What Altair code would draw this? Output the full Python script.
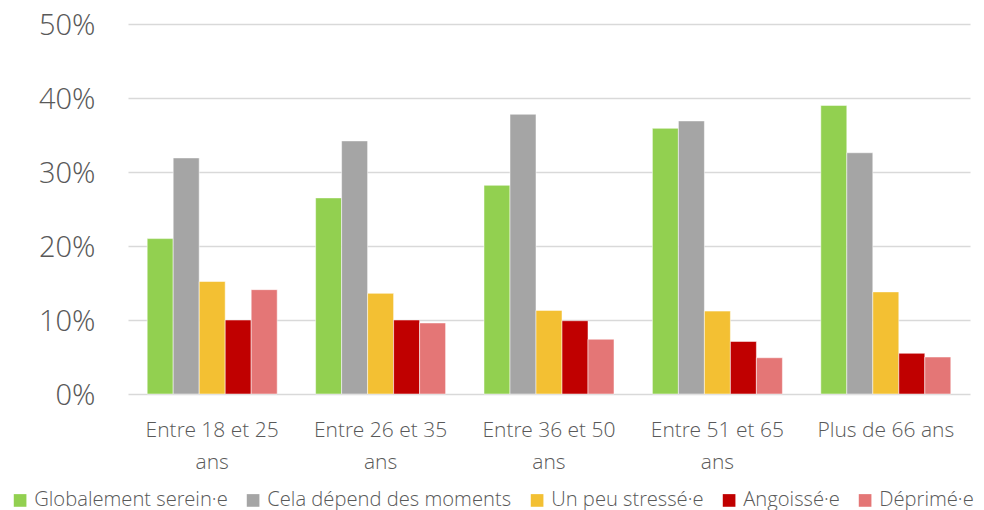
import altair as alt
import pandas as pd

groups = ["Entre 18 et 25 ans", "Entre 26 et 35 ans", "Entre 36 et 50 ans",
          "Entre 51 et 65 ans", "Plus de 66 ans"]
series = ["Globalement serein·e", "Cela dépend des moments", "Un peu stressé·e",
          "Angoissé·e", "Déprimé·e"]
colors = ["#92D050", "#A5A5A5", "#F3C033", "#C00000", "#E47676"]

serein = [0.210, 0.265, 0.282, 0.359, 0.390]
depend = [0.319, 0.342, 0.378, 0.369, 0.326]
stresse = [0.152, 0.136, 0.113, 0.112, 0.138]
angoisse = [0.100, 0.100, 0.099, 0.071, 0.055]
deprime = [0.141, 0.096, 0.074, 0.049, 0.050]

values = [serein, depend, stresse, angoisse, deprime]
rows = []
for s, vals in zip(series, values):
    for g, v in zip(groups, vals):
        rows.append({"groupe": g, "serie": s, "valeur": v})
df = pd.DataFrame(rows)

FONT = "'Open Sans Light', 'Open Sans', sans-serif"
TXT = "#595959"

label_expr = ("indexof(datum.label, 'Entre') == 0 ? "
              "[substring(datum.label, 0, length(datum.label) - 4), 'ans'] : datum.label")

chart = alt.Chart(df).mark_bar(stroke="white", strokeWidth=1, strokeOpacity=0.5).encode(
    x=alt.X("groupe:N", sort=groups,
            scale=alt.Scale(paddingInner=0.228, paddingOuter=0.114),
            axis=alt.Axis(title=None, labelAngle=0, labelExpr=label_expr,
                          labelFontSize=21, labelColor=TXT, labelPadding=25,
                          ticks=False, domain=False, labelLineHeight=32,
                          labelBaseline="top", labelFont=FONT, labelFontWeight=300)),
    xOffset=alt.XOffset("serie:N", sort=series),
    y=alt.Y("valeur:Q", scale=alt.Scale(domain=[0, 0.5]),
            axis=alt.Axis(title=None, format=".0%", values=[0, 0.1, 0.2, 0.3, 0.4, 0.5],
                          ticks=False, domain=False, labelFontSize=29, labelColor=TXT,
                          labelPadding=33, labelOffset=1.5, gridColor="#D9D9D9",
                          gridWidth=1.5, labelFont=FONT, labelFontWeight=300)),
    color=alt.Color("serie:N", sort=series,
                    scale=alt.Scale(domain=series, range=colors),
                    legend=alt.Legend(title=None, orient="none", legendX=-118, legendY=466,
                                      direction="horizontal", symbolType="square",
                                      symbolSize=160, symbolStrokeWidth=0,
                                      labelFontSize=20.2, labelColor=TXT, labelFont=FONT,
                                      labelFontWeight=300, columnPadding=15, labelOffset=4,
                                      labelLimit=0)),
).properties(
    width=842, height=370,
    autosize=alt.AutoSizeParams(type="none"),
    padding={"left": 120, "top": 16, "right": 6, "bottom": 120},
).configure_view(stroke=None)

chart.save("out.html", embed_options={"renderer": "svg", "actions": False})
